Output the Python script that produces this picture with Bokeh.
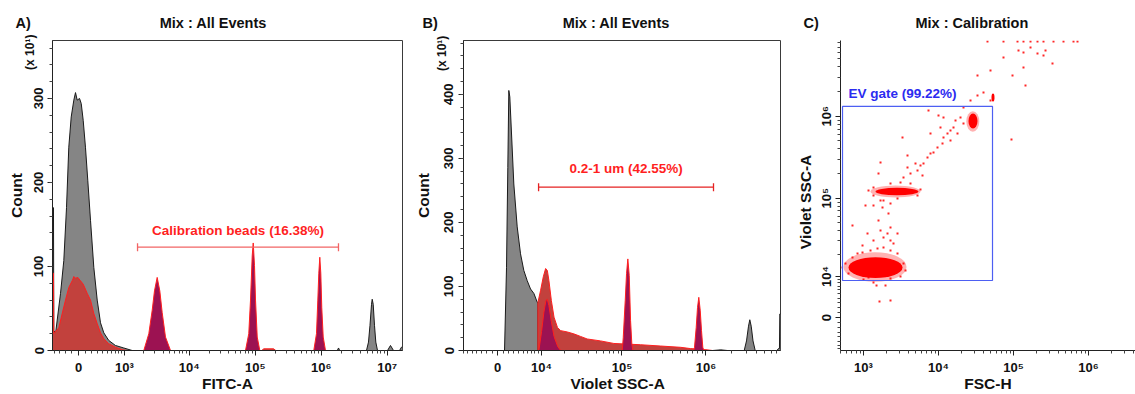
import numpy as np
from bokeh.plotting import figure
from bokeh.models import (ColumnDataSource, FixedTicker, Label, Range1d, LinearAxis, Title)
from bokeh.layouts import row
from bokeh.embed import file_html
from bokeh.resources import INLINE

# ------------------------------------------------------------------ data
# Panel A : FITC-A histograms (count in units of x10^1)
fitc_all_x = [-436, -415, -408, -374, -281, -225, -181, -145, -108, -69, -44, -19, 15, 40, 69,
              103, 139, 181, 235, 294, 355, 421, 530, 703, 975, 1334,
              1.75e6, 1.83e6, 1.9e6, 4.85e6, 5.2e6, 5.48e6, 5.78e6, 5.92e6, 6.13e6, 6.41e6,
              6.71e6, 7.12e6, 1.01e7, 1.12e7, 1.245e7, 1.535e7, 1.645e7, 1.70e7]
fitc_all_y = [170, 170, 24, 20, 68, 107, 170, 242, 278, 298, 307, 298, 300, 294, 274,
              242, 202, 155, 99, 60, 33, 21, 12, 6, 3, 0,
              0, 3, 0, 0, 10, 30, 55, 61, 55, 30,
              10, 0, 0, 6, 0, 0, 4, 4]
fitc_gate_x = [-436, -415, -408, -312, -252, -197, -145, -93, -69, -44, -10, 29, 69, 130,
               181, 235, 294, 355, 421, 530, 703, 918, 1100, 1.25e5, 1.35e5, 1.9e5, 2.05e5]
fitc_gate_y = [92, 92, 20, 27, 44, 60, 75, 83, 88, 86, 87, 83, 79, 68,
               60, 44, 32, 21, 14, 8, 4, 1, 0, 0, 2, 2, 0]
fitc_bead_x = [[2028, 2423, 2731, 2961, 3255, 3569, 3882, 4358, 5196],
               [71200, 79800, 84800, 90000, 93200, 97500, 101000, 107200, 117300],
               [771000, 847600, 887700, 918800, 951000, 984900, 1019000, 1071000, 1160000]]
fitc_bead_y = [[0, 20, 48, 71, 87, 71, 45, 16, 0],
               [0, 20, 60, 113, 128, 101, 60, 16, 0],
               [0, 20, 60, 92, 111, 92, 51, 16, 0]]
fitc_gate_range = [1620, 1.825e6]
fitc_gate_level = 123
fitc_gate_name = "Calibration beads (16.38%)"

# Panel B : Violet SSC-A histograms
ssc_all_x = [-7100, 1274, 1645, 1888, 2078, 2268, 2537, 3048, 3740, 4442, 5181, 5986, 6830,
             7731, 8719, 8900, 8900, 1.2e6, 1.5e6, 1.8e6, 2.854e6, 3.04e6, 3.211e6, 3.327e6,
             3.458e6, 3.633e6, 3.858e6, 7.0e6, 7.3e6, 7.5e6, 7.574e6, 7.72e6]
ssc_all_y = [0, 0, 130, 286, 406, 396, 349, 260, 193, 151, 125, 109, 96,
             89, 75, 75, 0, 0, 1, 0, 0, 15, 38, 48,
             38, 15, 0, 0, 3, 3, 57, 57]
ssc_gate_x = [8900, 8900, 9740, 10630, 11450, 12080, 12700, 13680, 14830, 16430, 18070,
              21790, 26300, 31750, 38260, 55370, 79930, 166300, 287800, 497800, 654600,
              1034000, 1196000]
ssc_gate_y = [0, 75, 94, 115, 128, 125, 109, 78, 52, 36, 31,
              29, 26, 22, 18, 15, 11, 9, 7, 5, 3, 1, 0]
ssc_bead_x = [[9182, 10070, 10850, 11570, 12080, 12700, 13680, 14830, 16580, 18070],
              [100700, 103500, 109300, 113300, 117400, 122000, 126500, 131000, 134700],
              [716800, 730600, 765600, 793300, 822000, 854400, 885400, 917400, 942800]]
ssc_bead_y = [[0, 30, 60, 78, 80, 70, 45, 22, 6, 0],
              [0, 20, 78, 120, 143, 117, 47, 10, 0],
              [0, 5, 36, 67, 83, 63, 31, 5, 0]]
ssc_gate_range = [9100, 1.23e6]
ssc_gate_level = 255
ssc_gate_name = "0.2-1 um (42.55%)"

# Panel C : FSC-H vs Violet SSC-A dot plot
# dense populations: (FSC lo, FSC hi, SSC lo, SSC hi)
pop_core = [(631, 3311, 9500, 18500), (1445, 5400, 109000, 134000),
            (25100, 33110, 710000, 1083000), (50900, 55800, 1.51e6, 1.90e6)]
pop_halo = [(541, 3750, 8300, 21500), (1240, 5754, 102300, 143400),
            (23500, 35000, 650000, 1150000)]
ev_fsc = [493, 575, 631, 713, 832, 970, 1240, 1537, 1848, 2291, 2840, 3415, 3631, 3115, 2291,
          1359, 1000, 1634, 2291, 1491, 1965, 1166,
          1686, 2089, 2291, 2512, 1848, 1585, 1131, 1359, 713, 2291, 2840, 970, 2154, 1792,
          1359, 1063, 2291, 1686,
          1166, 1359, 1359, 5754, 5248, 2291, 3115, 4233, 1848, 2840,
          3415, 4233, 3861, 4935, 5754, 6310, 5248, 6118, 7135, 7822, 8577, 9698, 11310, 11660,
          13180, 14450, 15850, 17920, 10630, 7822, 14450, 16860, 19650, 21540, 3311, 1686, 1585,
          3861, 7356, 10000, 11660,
          21540, 33110, 26720, 39810, 49350,
          33110, 49350, 73560, 97000, 116600, 135900, 144500, 135900, 208900, 267200, 331100,
          251200, 94000, 168600,
          45000, 73560, 113100, 135900, 168600, 208900, 251200, 341500, 464200, 631000, 713500]
ev_ssc = [13470, 15260, 11090, 18330, 20650, 21270, 22560, 23900, 24640, 22560, 20650, 15260,
          12230, 10020, 9340, 8090, 9020, 3270, 3490, 7210, 7210, 9680,
          40200, 36900, 30200, 27700, 32900, 53400, 36900, 30200, 46300, 43800, 36900, 26100,
          65300, 77200, 81700, 81700, 86400, 94000,
          124500, 135500, 108000, 128000, 108000, 152000, 156000, 152000, 94000, 99500,
          179000, 201000, 238000, 266000, 251000, 266000, 218500, 190000, 315000, 352000,
          362000, 417000, 466000, 552000, 617000, 672000, 731000, 617000, 731000, 617000,
          507500, 889000, 967000, 817000, 552000, 273000, 201000, 333000, 1180000, 1020000,
          967000,
          1280000, 1790000, 1560000, 1950000, 1560000,
          3150000, 3620000, 5220000, 3150000, 6350000, 6000000, 2380000, 3940000, 5840000,
          6350000, 4410000, 5520000, 522000, 6910000,
          8.2e6, 8.2e6, 8.2e6, 8.2e6, 8.2e6, 8.2e6, 8.2e6, 8.2e6, 8.2e6, 8.2e6, 8.2e6]
ev_gate = (525, 52500, 8700, 1.32e6)
ev_gate_name = "EV gate (99.22%)"

panel_tags = ["A)", "B)", "C)"]
panel_titles = ["Mix : All Events", "Mix : All Events", "Mix : Calibration"]
x_titles = ["FITC-A", "Violet SSC-A", "FSC-H"]
y_titles = ["Count", "Count", "Violet SSC-A"]
count_scale = "(x 10\u00b9)"
decade_labels = {0: "0", 3: "10\u00b3", 4: "10\u2074", 5: "10\u2075", 6: "10\u2076", 7: "10\u2077"}

# ------------------------------------------------------------------ helpers
LN10 = np.log(10.0)
NBSP = "\u00a0"


def biex(w):
    return lambda v: np.arcsinh(np.asarray(v, dtype=float) / w) / LN10


def logt(v):
    return np.log10(np.asarray(v, dtype=float))


t_a, t_b, t_cy = biex(420.0), biex(6600.0), biex(7040.0)

FONT = "Liberation Sans"
GREY, BLACK = "#858585", "#1a1a1a"
BRICK, RED, CRIMSON = "#c2413d", "#ff1f1f", "#9c1252"
BLUE_T, BLUE_L = "#2b2bf0", "#4d5ff2"
INK = "#111111"


def make_fig(width, bl, br, xr, yr, tag, title, gap, toff, outline=True):
    p = figure(width=width, height=394, x_range=Range1d(*xr), y_range=Range1d(*yr),
               min_border_left=bl, min_border_right=br, min_border_top=40, min_border_bottom=44,
               toolbar_location=None, output_backend="svg", background_fill_color="white",
               border_fill_color="white")
    p.title = Title(text=tag + NBSP * gap + title, align="left", offset=toff,
                    text_font=FONT, text_font_size="14.5px", text_font_style="bold",
                    text_color=INK, standoff=20)
    p.grid.visible = False
    p.outline_line_color = "#3a3a3a" if outline else None
    for ax in (p.xaxis[0], p.yaxis[0]):
        ax.axis_line_color = "#222222"
        ax.major_tick_line_color = "#222222"
        ax.minor_tick_line_color = "#444444"
        ax.major_tick_out, ax.major_tick_in = 5, 0
        ax.minor_tick_out, ax.minor_tick_in = 3, 0
        ax.major_label_text_font = FONT
        ax.major_label_text_font_style = "bold"
        ax.major_label_text_font_size = "13px"
        ax.major_label_text_color = INK
        ax.axis_label_text_font = FONT
        ax.axis_label_text_font_style = "bold"
        ax.axis_label_text_font_size = "15.5px"
        ax.axis_label_text_color = INK
    p.xaxis.major_label_standoff = 4
    p.xaxis.axis_label_standoff = -3
    p.yaxis.major_label_orientation = "vertical"
    return p


def count_axis(p, pos, standoff, label_standoff):
    ax = LinearAxis(ticker=FixedTicker(ticks=[pos]), major_label_overrides={pos: count_scale},
                    axis_line_color=None, major_tick_line_color=None, minor_tick_line_color=None,
                    major_label_orientation="vertical", major_label_standoff=standoff,
                    major_label_text_font=FONT, major_label_text_font_style="bold",
                    major_label_text_font_size="12px", major_label_text_color=INK,
                    axis_label="Count", axis_label_standoff=label_standoff,
                    axis_label_text_font=FONT, axis_label_text_font_style="bold",
                    axis_label_text_font_size="15.5px", axis_label_text_color=INK)
    p.add_layout(ax, "left")


def set_ticks(axis, tf, majors, major_keys, minors):
    pos = [float(v) for v in tf(majors)]
    axis.ticker = FixedTicker(ticks=pos, minor_ticks=[float(v) for v in tf(minors)])
    axis.major_label_overrides = {pv: decade_labels[k] for pv, k in zip(pos, major_keys)}


def histogram(p, tf, xs, ys, fill, line):
    src = ColumnDataSource(dict(x=tf(xs), y=ys))
    p.varea(x="x", y1=0, y2="y", source=src, fill_color=fill)
    p.line("x", "y", source=src, line_color=line, line_width=1)


def beads(p, tf, xs, ys):
    p.patches(xs=[list(tf(x)) for x in xs], ys=ys, fill_color=CRIMSON, line_color=RED,
              line_width=1)


def gate_bar(p, tf, rng, level, name, color, txt_off):
    xs = tf(rng)
    p.segment(x0=[xs[0]], x1=[xs[1]], y0=[level], y1=[level], line_color=color, line_width=1.3)
    p.scatter(x=list(xs), y=[level, level], marker="dash", angle=np.pi / 2, size=8,
              line_color=color, line_width=1.3)
    p.add_layout(Label(x=float(xs.mean()), y=level, y_offset=txt_off, text=name,
                       text_font=FONT, text_font_size="13.5px", text_font_style="bold",
                       text_color=RED, text_align="center", text_baseline="middle"))


lin_minor = lambda lo, hi, step: [v for v in range(lo, hi + 1, step) if v != 0]
log_minor = [k * 10.0 ** n for n in range(2, 8) for k in range(2, 10)]

# ------------------------------------------------------------------ panel A
pa = make_fig(406, 52, 4, (-0.394, 4.909), (0, 369), panel_tags[0], panel_titles[0], 32, -37)
histogram(pa, t_a, fitc_all_x, fitc_all_y, GREY, BLACK)
histogram(pa, t_a, fitc_gate_x, fitc_gate_y, BRICK, RED)
beads(pa, t_a, fitc_bead_x, fitc_bead_y)
gate_bar(pa, t_a, fitc_gate_range, fitc_gate_level, fitc_gate_name, "#f26464", 17)
set_ticks(pa.xaxis[0], t_a, [0, 1e3, 1e4, 1e5, 1e6, 1e7], [0, 3, 4, 5, 6, 7],
          lin_minor(-400, 900, 100) + [v for v in log_minor if v >= 2000])
pa.yaxis.ticker = FixedTicker(ticks=[0, 100, 200, 300], minor_ticks=list(range(20, 370, 20)))
pa.yaxis.major_label_standoff = 4
pa.xaxis.axis_label = x_titles[0]
count_axis(pa, 355, -12, -4)

# ------------------------------------------------------------------ panel B
pb = make_fig(382, 57, 8, (-0.405, 3.369), (0, 484), panel_tags[1], panel_titles[1], 31, -41)
histogram(pb, t_b, ssc_all_x, ssc_all_y, GREY, BLACK)
histogram(pb, t_b, ssc_gate_x, ssc_gate_y, BRICK, RED)
beads(pb, t_b, ssc_bead_x, ssc_bead_y)
gate_bar(pb, t_b, ssc_gate_range, ssc_gate_level, ssc_gate_name, "#e52222", 19)
set_ticks(pb.xaxis[0], t_b, [0, 1e4, 1e5, 1e6], [0, 4, 5, 6],
          lin_minor(-7000, 9000, 1000) + [v for v in log_minor if v >= 2e4])
pb.yaxis.ticker = FixedTicker(ticks=[0, 100, 200, 300, 400], minor_ticks=list(range(20, 490, 20)))
pb.yaxis.major_label_standoff = 5
pb.xaxis.axis_label = x_titles[1] + NBSP * 2
count_axis(pb, 464, -14, 1)

# ------------------------------------------------------------------ panel C
pc = make_fig(347, 52, 0, (2.6933, 6.6267), (-0.4024, 3.378), panel_tags[2], panel_titles[2],
              24, -37, outline=False)
for (x0, x1, y0, y1), alpha in [(h, 0.3) for h in pop_halo] + [(c, 1.0) for c in pop_core]:
    pc.ellipse(x=[(logt(x0) + logt(x1)) / 2], y=[(t_cy(y0) + t_cy(y1)) / 2],
               width=[logt(x1) - logt(x0)], height=[t_cy(y1) - t_cy(y0)],
               fill_color="#ff0000", fill_alpha=alpha, line_color=None)
pc.scatter(x=logt(ev_fsc), y=t_cy(ev_ssc), marker="square", size=2, fill_color="#ff0000",
           fill_alpha=0.85, line_color=None)
gx0, gx1, gy0, gy1 = ev_gate
pc.quad(left=[logt(gx0)], right=[logt(gx1)], bottom=[t_cy(gy0)], top=[t_cy(gy1)],
        fill_color=None, line_color=BLUE_L, line_width=1.2)
pc.add_layout(Label(x=float(logt(gx0)), y=float(t_cy(gy1)), x_offset=6, y_offset=13,
                    text=ev_gate_name, text_font=FONT, text_font_size="13.5px",
                    text_font_style="bold", text_color=BLUE_T, text_align="left",
                    text_baseline="middle"))
cx_pos = [3.0, 4.0, 5.0, 6.0]
pc.xaxis.ticker = FixedTicker(ticks=cx_pos, minor_ticks=[float(v) for v in logt(log_minor)])
pc.xaxis.major_label_overrides = {v: decade_labels[int(v)] for v in cx_pos}
set_ticks(pc.yaxis[0], t_cy, [0, 1e4, 1e5, 1e6], [0, 4, 5, 6],
          lin_minor(-7000, 9000, 1000) + [v for v in log_minor if v >= 2e4])
pc.yaxis.major_label_standoff = 1
pc.yaxis.axis_label_standoff = 3
pc.xaxis.axis_label = x_titles[2]
pc.yaxis.axis_label = y_titles[2] + NBSP * 3

layout = row(pa, pb, pc)
open("out.html", "w").write(file_html(layout, INLINE, "Mix calibration"))
